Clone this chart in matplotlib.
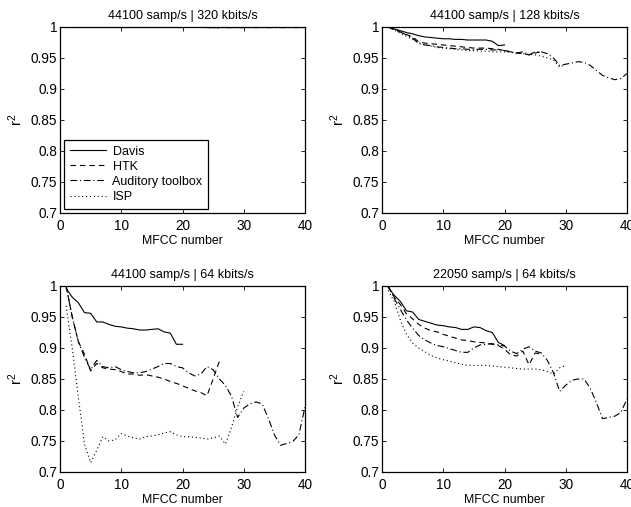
import numpy as np
import matplotlib
matplotlib.use('Agg')
import matplotlib.pyplot as plt

plt.rcParams['font.family'] = ['Liberation Sans', 'DejaVu Sans']
plt.rcParams['mathtext.default'] = 'regular'

# r^2 per MFCC number, one list per method and per coding setting
titles = ['44100 samp/s | 320 kbits/s', '44100 samp/s | 128 kbits/s',
          '44100 samp/s | 64 kbits/s', '22050 samp/s | 64 kbits/s']
methods = ['Davis', 'HTK', 'Auditory toolbox', 'ISP']

# 44100 / 320k
davis_320 = [1.000, 1.000, 1.000, 1.000, 1.000, 1.000, 1.000, 1.000, 1.000, 1.000,
             1.000, 1.000, 1.000, 1.000, 1.000, 1.000, 1.000, 1.000, 1.000, 1.000]
htk_320 = [1.000, 1.000, 1.000, 1.000, 1.000, 1.000, 1.000, 1.000, 1.000, 1.000,
           1.000, 1.000, 1.000, 0.9995, 0.9995, 0.9995, 0.9995, 0.9995, 0.9995, 0.9995,
           0.9995, 0.9995, 0.9995, 0.999, 0.999, 0.999]
aud_320 = [1.000, 1.000, 1.000, 1.000, 1.000, 1.000, 1.000, 1.000, 1.000, 1.000,
           1.000, 1.000, 1.000, 0.9995, 0.9995, 0.9995, 0.9995, 0.9995, 0.9995, 0.9995,
           0.9995, 0.9995, 0.9995, 0.999, 0.999, 0.999, 0.999, 0.999, 0.999, 0.999,
           0.999, 0.999, 0.999, 0.999, 0.999, 0.999, 0.999, 0.999, 0.999, 0.999]
isp_320 = [1.000, 1.000, 1.000, 1.000, 1.000, 1.000, 1.000, 1.000, 1.000, 1.000,
           1.000, 1.000, 1.000, 0.9995, 0.9995, 0.9995, 0.9995, 0.9995, 0.9995, 0.9995,
           0.9995, 0.9995, 0.9995, 0.999, 0.999, 0.999, 0.999, 0.999, 0.999, 0.999]

# 44100 / 128k
davis_128 = [1.000, 0.997, 0.994, 0.991, 0.989, 0.986, 0.984, 0.983, 0.982, 0.981,
             0.981, 0.980, 0.980, 0.979, 0.979, 0.979, 0.979, 0.977, 0.970, 0.971]
htk_128 = [1.000, 0.996, 0.992, 0.988, 0.984, 0.976, 0.974, 0.973, 0.972, 0.971,
           0.970, 0.969, 0.968, 0.967, 0.966, 0.966, 0.966, 0.965, 0.964, 0.962,
           0.960, 0.958, 0.957, 0.955, 0.958, 0.960]
aud_128 = [1.000, 0.996, 0.992, 0.987, 0.982, 0.973, 0.971, 0.970, 0.968, 0.967,
           0.966, 0.965, 0.965, 0.964, 0.964, 0.964, 0.964, 0.963, 0.963, 0.962,
           0.960, 0.958, 0.960, 0.955, 0.960, 0.960, 0.957, 0.950, 0.938, 0.940,
           0.942, 0.944, 0.943, 0.938, 0.930, 0.922, 0.918, 0.915, 0.917, 0.925]
isp_128 = [1.000, 0.995, 0.990, 0.985, 0.980, 0.975, 0.971, 0.969, 0.967, 0.966,
           0.965, 0.964, 0.963, 0.962, 0.962, 0.961, 0.961, 0.960, 0.960, 0.960,
           0.959, 0.958, 0.957, 0.956, 0.955, 0.953, 0.950, 0.947, 0.935, 0.940]

# 44100 / 64k
davis_64 = [0.996, 0.982, 0.973, 0.957, 0.956, 0.942, 0.942, 0.938, 0.935, 0.934,
            0.932, 0.931, 0.929, 0.929, 0.930, 0.931, 0.926, 0.924, 0.906, 0.906]
htk_64 = [1.000, 0.950, 0.910, 0.890, 0.863, 0.875, 0.868, 0.866, 0.865, 0.862,
          0.858, 0.858, 0.856, 0.857, 0.855, 0.853, 0.850, 0.846, 0.843, 0.839,
          0.835, 0.831, 0.828, 0.823, 0.850, 0.878]
aud_64 = [1.000, 0.950, 0.910, 0.885, 0.865, 0.880, 0.870, 0.868, 0.870, 0.865,
          0.862, 0.860, 0.860, 0.862, 0.866, 0.870, 0.875, 0.875, 0.870, 0.868,
          0.860, 0.855, 0.858, 0.870, 0.865, 0.850, 0.840, 0.822, 0.788, 0.803,
          0.810, 0.813, 0.810, 0.787, 0.760, 0.743, 0.746, 0.749, 0.760, 0.805]
isp_64 = [0.968, 0.900, 0.820, 0.745, 0.715, 0.735, 0.757, 0.750, 0.752, 0.762,
          0.758, 0.755, 0.753, 0.757, 0.758, 0.760, 0.763, 0.765, 0.760, 0.757,
          0.757, 0.756, 0.755, 0.753, 0.755, 0.758, 0.745, 0.772, 0.805, 0.830]

# 22050 / 64k
davis_22 = [0.998, 0.985, 0.975, 0.960, 0.958, 0.946, 0.943, 0.940, 0.937, 0.936,
            0.934, 0.933, 0.930, 0.930, 0.934, 0.933, 0.928, 0.925, 0.909, 0.904]
htk_22 = [1.000, 0.982, 0.970, 0.955, 0.947, 0.938, 0.932, 0.928, 0.926, 0.922,
          0.919, 0.916, 0.913, 0.912, 0.910, 0.909, 0.908, 0.906, 0.904, 0.898,
          0.889, 0.887, 0.895, 0.873, 0.892, 0.890]
aud_22 = [1.000, 0.980, 0.962, 0.945, 0.932, 0.920, 0.913, 0.908, 0.904, 0.902,
          0.899, 0.896, 0.893, 0.893, 0.900, 0.905, 0.906, 0.907, 0.905, 0.903,
          0.895, 0.891, 0.898, 0.902, 0.895, 0.892, 0.880, 0.860, 0.830, 0.840,
          0.848, 0.850, 0.850, 0.835, 0.812, 0.786, 0.788, 0.790, 0.796, 0.818]
isp_22 = [0.993, 0.975, 0.945, 0.922, 0.908, 0.900, 0.894, 0.888, 0.884, 0.881,
          0.879, 0.876, 0.874, 0.872, 0.872, 0.872, 0.872, 0.871, 0.870, 0.869,
          0.868, 0.867, 0.866, 0.866, 0.866, 0.865, 0.862, 0.858, 0.868, 0.872]

panels = [
    [davis_320, htk_320, aud_320, isp_320],
    [davis_128, htk_128, aud_128, isp_128],
    [davis_64, htk_64, aud_64, isp_64],
    [davis_22, htk_22, aud_22, isp_22],
]
styles = ['-', (0, (5, 3.5)), (0, (6, 2.5, 1, 2.5)), (0, (1, 2.5))]

yticks = [0.7, 0.75, 0.8, 0.85, 0.9, 0.95, 1]
ytick_labels = ['0.7', '0.75', '0.8', '0.85', '0.9', '0.95', '1']
xticks = [0, 10, 20, 30, 40]

fig = plt.figure(figsize=(6.31, 5.07), dpi=100)
W, H = 631.0, 507.0
boxes = [(60, 27), (382, 27), (60, 286), (382, 286)]  # left, top in px

for i, series in enumerate(panels):
    left, top = boxes[i]
    ax = fig.add_axes([left / W, 1 - (top + 186) / H, 245 / W, 186 / H])
    for vals, ls, name in zip(series, styles, methods):
        x = np.arange(1, len(vals) + 1)
        ax.plot(x, vals, color='black', linestyle=ls, linewidth=0.8, label=name)
    ax.set_xlim(0, 40)
    ax.set_ylim(0.7, 1)
    ax.set_xticks(xticks)
    ax.set_yticks(yticks)
    ax.set_yticklabels(ytick_labels)
    ax.tick_params(direction='in', top=True, right=True, length=3, width=0.6,
                   labelsize=9.8)
    ax.tick_params(axis='x', pad=4)
    ax.tick_params(axis='y', pad=2)
    for s in ax.spines.values():
        s.set_linewidth(0.9)
    ax.set_title(titles[i], fontsize=9, pad=6)
    ax.set_xlabel('MFCC number', fontsize=8.8, labelpad=1.5)
    ax.set_ylabel('r$^2$', fontsize=10.5, labelpad=4)
    if i == 0:
        leg = ax.legend(loc='lower left', fontsize=9, handlelength=2.9,
                        fancybox=False, framealpha=1, edgecolor='black',
                        borderaxespad=0.35, borderpad=0.45, labelspacing=0.25,
                        handletextpad=0.5)
        leg.get_frame().set_linewidth(0.9)

fig.savefig('out.png', dpi=100)
